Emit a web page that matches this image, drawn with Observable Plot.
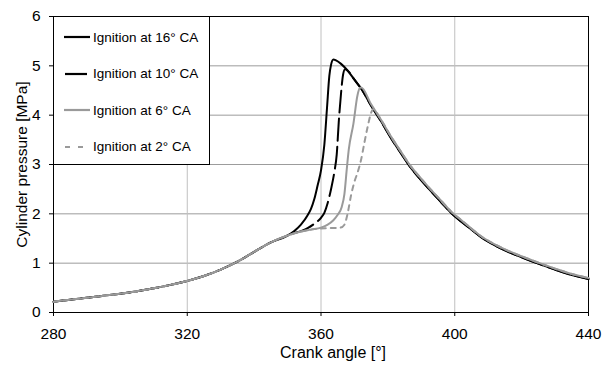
<!DOCTYPE html>
<html>
<head>
<meta charset="utf-8">
<script src="https://cdn.jsdelivr.net/npm/d3@7"></script>
<script src="https://cdn.jsdelivr.net/npm/@observablehq/plot@0.6"></script>
<style>
  html, body { margin: 0; padding: 0; background: #fff; }
  #wrap { position: relative; width: 608px; height: 367px; font-family: "Liberation Sans", Arial, sans-serif; }
  #wrap svg.plot { display: block; }
  #legend { position: absolute; left: 53px; top: 16px; width: 155px; height: 147px; background: #fff; border: 1px solid #000; }
  #legend .row { position: absolute; left: 0; height: 20px; display: flex; align-items: center; font-size: 13.5px; color: #000; white-space: nowrap; }
  #legend .row svg { margin-left: 10px; margin-right: 3px; }
</style>
</head>
<body>
<div id="wrap"><div id="legend"></div></div>
<script>
// ---- data ----
const seriesNames = ["Ignition at 16\u00b0 CA", "Ignition at 10\u00b0 CA", "Ignition at 6\u00b0 CA", "Ignition at 2\u00b0 CA"];
const xTicks = [280, 320, 360, 400, 440];
const yTicks = [0, 1, 2, 3, 4, 5, 6];
const xLabel = "Crank angle [\u00b0]";
const yLabel = "Cylinder pressure [MPa]";

// common compression stroke
const compAngle = [280, 285, 290, 295, 300, 305, 310, 315, 320, 325, 330, 335, 340, 345, 350];
const compP     = [0.22, 0.26, 0.30, 0.34, 0.38, 0.43, 0.49, 0.56, 0.64, 0.74, 0.87, 1.03, 1.23, 1.42, 1.56];

// combustion parts
const ign16Angle = [352, 354, 356, 357, 358, 359, 360, 361, 361.8, 362.5, 363, 363.7, 364.5, 366];
const ign16P     = [1.65, 1.78, 1.97, 2.10, 2.30, 2.58, 2.88, 3.40, 4.15, 4.80, 5.02, 5.13, 5.11, 5.04];

const ign10Angle = [352, 354, 356, 358, 360, 361, 362, 363, 364, 364.7, 365.3, 366, 366.6, 367.2];
const ign10P     = [1.61, 1.65, 1.71, 1.80, 1.92, 2.02, 2.22, 2.50, 2.85, 3.20, 3.85, 4.45, 4.82, 4.93];

const ign6Angle = [354, 357, 360, 362, 363.7, 365, 366.2, 367, 367.7, 368.3, 369.7, 370.9, 371.6];
const ign6P     = [1.64, 1.68, 1.72, 1.78, 1.87, 1.98, 2.14, 2.40, 2.90, 3.30, 3.83, 4.40, 4.55];

const ign2Angle = [354, 358, 362, 365.8, 367, 368, 369, 370, 371, 372, 373, 374, 375, 375.6];
const ign2P     = [1.64, 1.69, 1.71, 1.72, 1.78, 2.02, 2.38, 2.65, 2.85, 3.10, 3.45, 3.78, 4.05, 4.12];

// expansion stroke (black curves, grey curves run slightly above)
const expBlackAngle = [368, 370, 372, 375, 378, 381, 384, 387, 390, 393, 396, 399, 402, 405, 408, 412, 416, 420, 425, 430, 435, 440];
const expBlackP     = [4.90, 4.72, 4.54, 4.19, 3.87, 3.53, 3.22, 2.92, 2.68, 2.45, 2.23, 2.01, 1.84, 1.68, 1.52, 1.36, 1.23, 1.12, 0.99, 0.87, 0.76, 0.68];
const expGreyAngle  = [372, 375, 378, 381, 384, 387, 390, 393, 396, 399, 402, 405, 408, 412, 416, 420, 425, 430, 435, 440];
const expGreyP      = [4.56, 4.22, 3.90, 3.56, 3.25, 2.95, 2.71, 2.48, 2.26, 2.04, 1.87, 1.70, 1.54, 1.38, 1.25, 1.14, 1.01, 0.89, 0.78, 0.70];

// ---- build tables ----
function build(name, cA, cP, eA, eP) {
  const rows = [];
  compAngle.forEach((a, i) => rows.push({name, angle: a, p: compP[i]}));
  cA.forEach((a, i) => rows.push({name, angle: a, p: cP[i]}));
  const last = cA[cA.length - 1];
  eA.forEach((a, i) => { if (a > last) rows.push({name, angle: a, p: eP[i]}); });
  return rows;
}
const s16 = build(seriesNames[0], ign16Angle, ign16P, expBlackAngle, expBlackP);
const s10 = build(seriesNames[1], ign10Angle, ign10P, expBlackAngle, expBlackP);
const s6  = build(seriesNames[2], ign6Angle, ign6P, expGreyAngle, expGreyP);
const s2  = build(seriesNames[3], ign2Angle, ign2P, expGreyAngle, expGreyP);

const styles = [
  {stroke: "#000", dash: null, width: 2},
  {stroke: "#000", dash: "22,6", width: 2},
  {stroke: "#9a9a9a", dash: null, width: 2},
  {stroke: "#9a9a9a", dash: "5,5", width: 2}
];
const data = [s16, s10, s6, s2];

const chart = Plot.plot({
  width: 608,
  height: 367,
  marginLeft: 53,
  marginRight: 20,
  marginTop: 16,
  marginBottom: 55,
  style: {fontFamily: "'Liberation Sans', Arial, sans-serif", fontSize: "15.5px", color: "#000", background: "#fff"},
  x: {domain: [280, 440]},
  y: {domain: [0, 6]},
  marks: [
    Plot.gridY(yTicks, {stroke: "#9c9c9c", strokeOpacity: 1}),
    Plot.gridX(xTicks, {stroke: "#c0c0c0", strokeOpacity: 1}),
    Plot.frame({stroke: "#000", strokeWidth: 1}),
    ...data.map((d, i) => Plot.line(d, {
      x: "angle", y: "p", curve: "monotone-x",
      stroke: styles[i].stroke, strokeWidth: styles[i].width,
      strokeDasharray: styles[i].dash || undefined
    })),
    Plot.axisX(xTicks, {tickSize: 4, tickPadding: 11, label: null, fontSize: 15.5}),
    Plot.axisY(yTicks, {tickSize: 4, tickPadding: 9, label: yLabel, labelAnchor: "center", labelArrow: "none", labelOffset: 38, fontSize: 15.5}),
    Plot.text([xLabel], {frameAnchor: "bottom", dy: 45, dx: 12, fontSize: 16, fill: "#000"})
  ]
});
const wrap = document.getElementById("wrap");
wrap.insertBefore(chart, wrap.firstChild);

// ---- legend ----
const legend = document.getElementById("legend");
const rowTops = [10, 46.5, 83, 119.5];
seriesNames.forEach((n, i) => {
  const row = document.createElement("div");
  row.className = "row";
  row.style.top = rowTops[i] + "px";
  const st = styles[i];
  const dash = i === 1 ? 'stroke-dasharray="22,6" stroke-dashoffset="-1"' : (i === 3 ? 'stroke-dasharray="5,8" stroke-dashoffset="-1"' : "");
  row.innerHTML = `<svg width="26" height="6"><line x1="0" x2="26" y1="3" y2="3" stroke="${st.stroke}" stroke-width="2.2" ${dash}/></svg><span>${n}</span>`;
  legend.appendChild(row);
});
</script>
</body>
</html>
